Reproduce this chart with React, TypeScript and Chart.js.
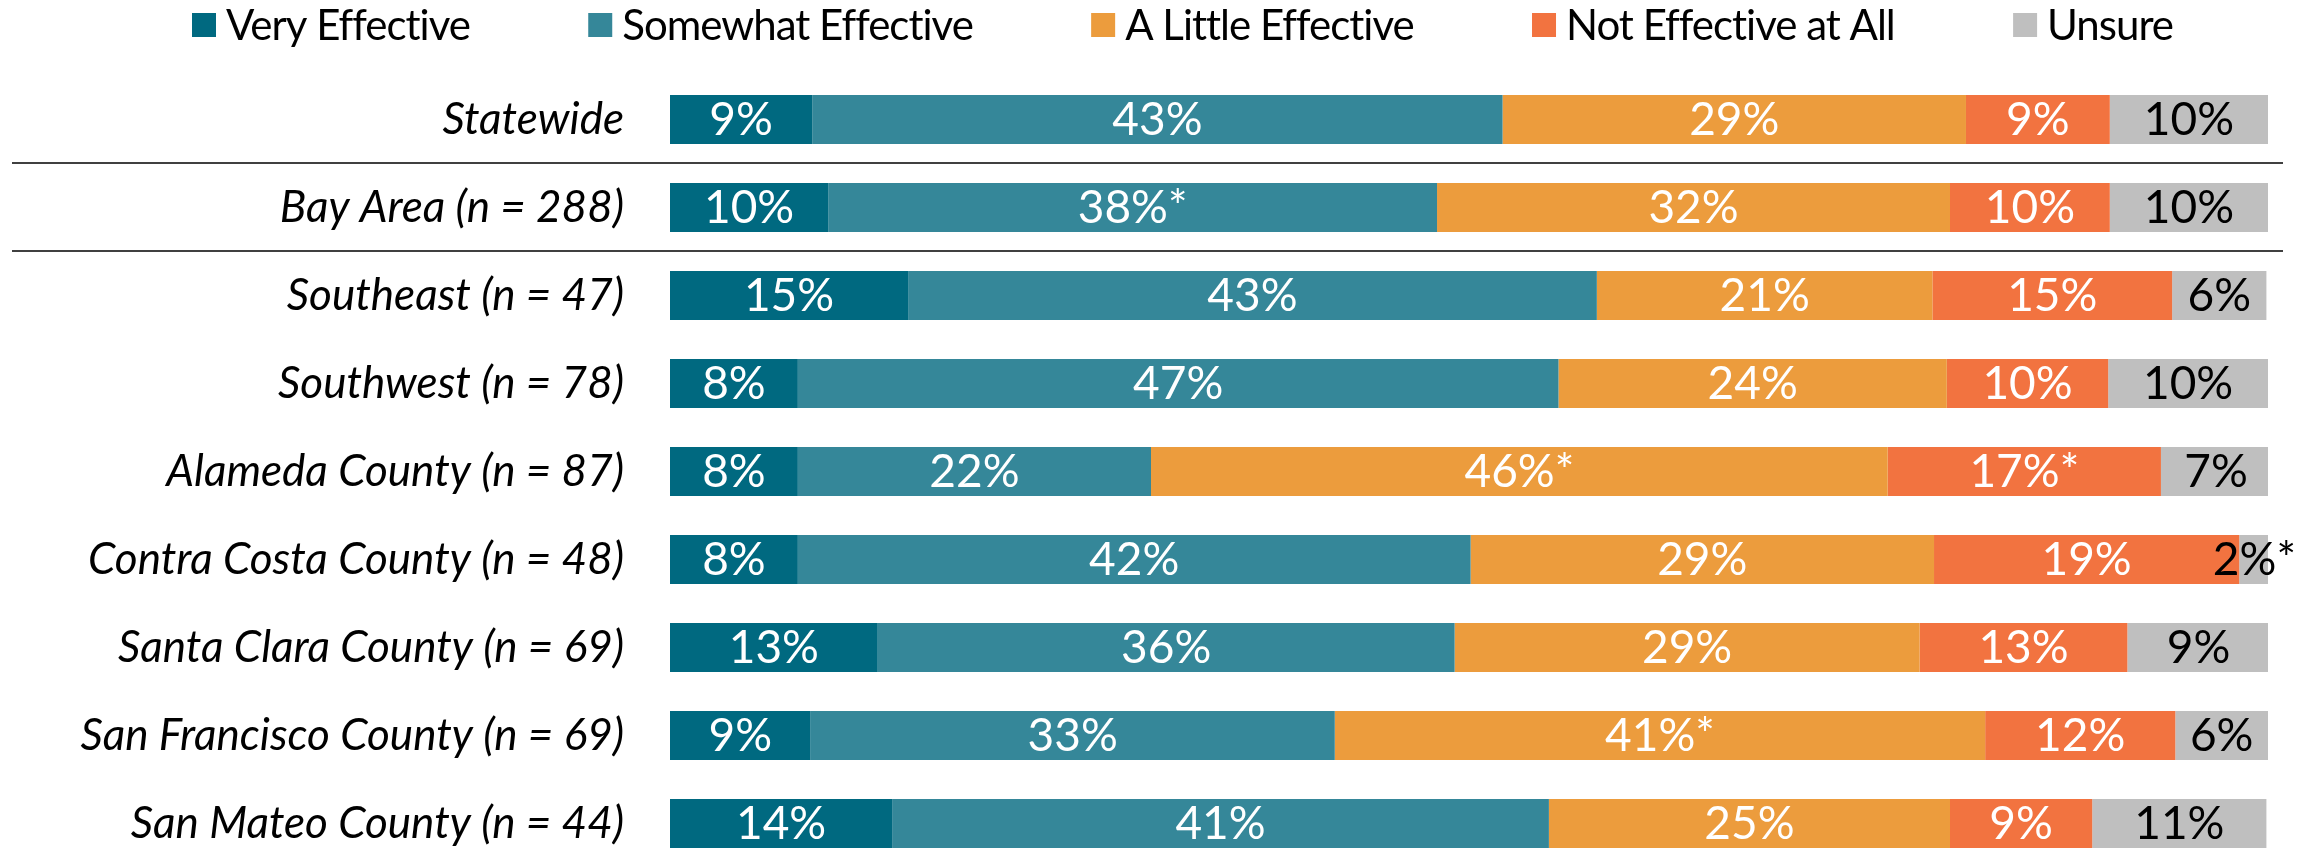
import { useEffect, useRef } from "react";
import { Chart, registerables } from "chart.js";

Chart.register(...registerables);

const categories = [
  "Statewide",
  "Bay Area (n = 288)",
  "Southeast (n = 47)",
  "Southwest (n = 78)",
  "Alameda County (n = 87)",
  "Contra Costa County (n = 48)",
  "Santa Clara County (n = 69)",
  "San Francisco County (n = 69)",
  "San Mateo County (n = 44)",
];

const seriesNames = [
  "Very Effective",
  "Somewhat Effective",
  "A Little Effective",
  "Not Effective at All",
  "Unsure",
];

const veryEffective = [8.9, 9.9, 14.9, 8.0, 8.0, 8.0, 13.0, 8.8, 13.9];
const somewhatEffective = [43.2, 38.1, 43.1, 47.6, 22.1, 42.1, 36.1, 32.8, 41.1];
const littleEffective = [29.0, 32.1, 21.0, 24.3, 46.1, 29.0, 29.1, 40.7, 25.1];
const notEffective = [9.0, 10.0, 15.0, 10.1, 17.1, 19.1, 13.0, 11.9, 8.9];
const unsure = [9.9, 9.9, 5.9, 10.0, 6.9, 1.9, 8.9, 5.8, 10.9];

const veryLabels = ["9%", "10%", "15%", "8%", "8%", "8%", "13%", "9%", "14%"];
const somewhatLabels = ["43%", "38%*", "43%", "47%", "22%", "42%", "36%", "33%", "41%"];
const littleLabels = ["29%", "32%", "21%", "24%", "46%*", "29%", "29%", "41%*", "25%"];
const notLabels = ["9%", "10%", "15%", "10%", "17%*", "19%", "13%", "12%", "9%"];
const unsureLabels = ["10%", "10%", "6%", "10%", "7%", "2%*", "9%", "6%", "11%"];

const separatorsAfter = [0, 1];

const colors = ["#006980", "#358799", "#EC9C3D", "#F27340", "#BFBFBF"];
const labelColors = ["#FFFFFF", "#FFFFFF", "#FFFFFF", "#FFFFFF", "#000000"];

const FONT = 'Lato, "Open Sans", sans-serif';

const valueLabelPlugin = {
  id: "valueLabels",
  afterDatasetsDraw(chart: any) {
    const ctx = chart.ctx;
    ctx.save();
    ctx.font = `46px ${FONT}`;
    ctx.textAlign = "center";
    ctx.textBaseline = "middle";
    chart.data.datasets.forEach((ds: any, di: number) => {
      const meta = chart.getDatasetMeta(di);
      meta.data.forEach((el: any, i: number) => {
        const p = el.getCenterPoint();
        ctx.fillStyle = ds.labelColor;
        ctx.fillText(ds.valueLabels[i], p.x, p.y + 1);
      });
    });
    ctx.restore();
  },
};

const separatorPlugin = {
  id: "separators",
  afterDatasetsDraw(chart: any) {
    const ctx = chart.ctx;
    const y = chart.scales.y;
    ctx.save();
    ctx.strokeStyle = "#404040";
    ctx.lineWidth = 2;
    separatorsAfter.forEach((idx) => {
      const py = Math.round((y.getPixelForValue(idx) + y.getPixelForValue(idx + 1)) / 2) - 1;
      ctx.beginPath();
      ctx.moveTo(12, py);
      ctx.lineTo(chart.chartArea.right + 15, py);
      ctx.stroke();
    });
    ctx.restore();
  },
};

const legendPlugin = {
  id: "customLegend",
  afterDraw(chart: any) {
    const ctx = chart.ctx;
    ctx.save();
    ctx.font = `42px ${FONT}`;
    try {
      ctx.letterSpacing = "-1px";
    } catch (e) {}
    ctx.textBaseline = "middle";
    ctx.textAlign = "left";
    const box = 24;
    const boxGap = 10;
    const startX = 192;
    const endX = 2173;
    const widths = chart.data.datasets.map((ds: any) => box + boxGap + ctx.measureText(ds.label).width);
    const sum = widths.reduce((a: number, b: number) => a + b, 0);
    const itemGap = (endX - startX - sum) / (widths.length - 1);
    let x = startX;
    const cy = 25;
    chart.data.datasets.forEach((ds: any, i: number) => {
      ctx.fillStyle = ds.backgroundColor;
      ctx.fillRect(x, cy - box / 2, box, box);
      ctx.fillStyle = "#000";
      ctx.fillText(ds.label, x + box + boxGap, cy + 1);
      x += widths[i] + itemGap;
    });
    ctx.restore();
  },
};

export default function App() {
  const ref = useRef<HTMLCanvasElement | null>(null);

  useEffect(() => {
    document.body.style.margin = "0";
    const canvas = ref.current;
    if (!canvas) return;
    const series = [veryEffective, somewhatEffective, littleEffective, notEffective, unsure];
    const labelSets = [veryLabels, somewhatLabels, littleLabels, notLabels, unsureLabels];
    const chart = new Chart(canvas, {
      type: "bar",
      data: {
        labels: categories,
        datasets: series.map((data, i) => ({
          label: seriesNames[i],
          data,
          backgroundColor: colors[i],
          borderWidth: 0,
          categoryPercentage: 1,
          barPercentage: 0.557,
          valueLabels: labelSets[i],
          labelColor: labelColors[i],
        })) as any,
      },
      options: {
        indexAxis: "y",
        responsive: false,
        animation: false,
        devicePixelRatio: 1,
        layout: { padding: { top: 75.5, bottom: 12.5, left: 0, right: 52 } },
        plugins: {
          legend: { display: false },
          tooltip: { enabled: false },
        },
        scales: {
          x: {
            stacked: true,
            min: 0,
            max: 100,
            display: false,
          },
          y: {
            stacked: true,
            grid: { display: false },
            border: { display: false },
            ticks: {
              color: "#000",
              padding: 38,
              font: { family: FONT, size: 44, style: "italic" },
            },
            afterFit(scale: any) {
              scale.width = 670;
              scale.paddingTop = 0;
              scale.paddingBottom = 0;
            },
          },
        },
      },
      plugins: [valueLabelPlugin, separatorPlugin, legendPlugin],
    });
    return () => chart.destroy();
  }, []);

  return (
    <div
      style={{
        position: "fixed",
        left: 0,
        top: 0,
        width: 2320,
        height: 848,
        overflow: "hidden",
        background: "#fff",
      }}
    >
      <canvas ref={ref} width={2320} height={880} style={{ display: "block" }} />
    </div>
  );
}
